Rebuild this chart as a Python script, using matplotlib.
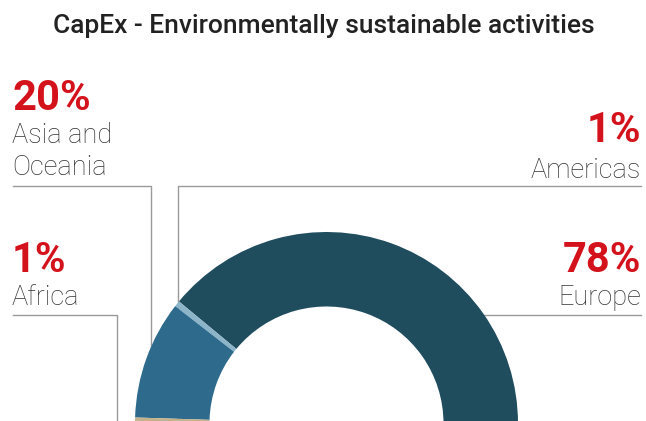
import matplotlib
matplotlib.use("Agg")
import matplotlib.pyplot as plt

title = "CapEx - Environmentally sustainable activities"
regions = ["Europe", "Americas", "Asia and\nOceania", "Africa"]
shares = [78, 1, 20, 1]
pct_labels = ["78%", "1%", "20%", "1%"]
colors = ["#1f4d5e", "#8db5c9", "#2e6a8c", "#c4b28c"]

W, H = 646, 421
fig = plt.figure(figsize=(W / 100, H / 100), dpi=100)
ax = fig.add_axes([0, 0, 1, 1])

# semicircular donut: visible shares plus an invisible lower half
cx, cy = 326.5, H - 423.5
R, r_in = 191.5, 117
vals = shares + [sum(shares)]
wedges, _ = ax.pie(vals, colors=colors + ["none"], startangle=0, counterclock=True,
                   center=(cx, cy), radius=R,
                   wedgeprops=dict(width=R - r_in, linewidth=0, zorder=3))
ax.set_xlim(0, W)
ax.set_ylim(0, H)
ax.set_aspect("equal")
ax.axis("off")

red = "#d4121c"
gray_txt = "#333333"
line_c = "#9a9a9a"
pct_kw = dict(fontsize=30, fontweight="bold", color=red, family="Roboto")
lab_kw = dict(fontsize=19.5, fontweight="light", color=gray_txt, family="Roboto")


def Y(y):
    return H - y


def label(x, baseline, text, ha):
    for i, line in enumerate(text.split("\n")):
        ax.text(x, Y(baseline + 32 * i), line, ha=ha, va="baseline", **lab_kw)


# Title
ax.text(W / 2 + 1, Y(33), title, ha="center", va="baseline", fontsize=19,
        fontweight="medium", color="#222222", family="Roboto")

# Asia and Oceania (left, top)
ax.text(12, Y(110), pct_labels[2], ha="left", va="baseline", **pct_kw)
label(12, 143, regions[2], "left")
ax.plot([13, 151, 151], [Y(186), Y(186), Y(421)], color=line_c, lw=1, zorder=1)

# Africa (left, bottom)
ax.text(12, Y(271.5), pct_labels[3], ha="left", va="baseline", **pct_kw)
label(12, 305, regions[3], "left")
ax.plot([13, 117, 117], [Y(314.5), Y(314.5), Y(421)], color=line_c, lw=1, zorder=1)

# Americas (right, top)
ax.text(641, Y(142.5), pct_labels[1], ha="right", va="baseline", **pct_kw)
label(641, 178, regions[1], "right")
ax.plot([641, 177.5, 177.5], [Y(186), Y(186), Y(421)], color=line_c, lw=1, zorder=1)

# Europe (right, bottom)
ax.text(641, Y(271.5), pct_labels[0], ha="right", va="baseline", **pct_kw)
label(641, 305, regions[0], "right")
ax.plot([641, 470], [Y(315), Y(315)], color=line_c, lw=1, zorder=1)

fig.savefig("out.png", dpi=100, facecolor="white")
